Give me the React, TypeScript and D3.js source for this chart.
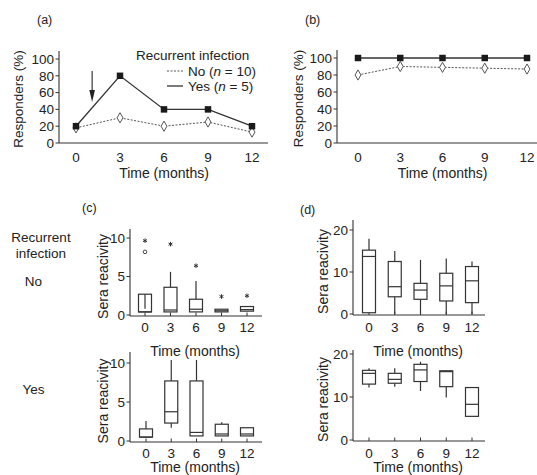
import React from "react";
import * as d3 from "d3";

const months = [0, 3, 6, 9, 12];
const aYes = [20, 80, 40, 40, 20];
const aNo = [18, 30, 20, 25, 13];
const bYes = [100, 100, 100, 100, 100];
const bNo = [80, 90, 89, 88, 87];
const pctTicks = [0, 20, 40, 60, 80, 100];
const cTicks = [0, 5, 10];
const dTicks = [0, 10, 20];

type Box = { q1: number; med: number; q3: number; lo: number; hi: number; inner?: [number, number] };

const cNoBoxes: Box[] = [
  { q1: 0.4, med: 0.4, q3: 2.7, lo: 0.4, hi: 2.7, inner: [0.8, 2.7] },
  { q1: 0.4, med: 0.65, q3: 3.6, lo: 0.4, hi: 5.6 },
  { q1: 0.4, med: 0.75, q3: 2.05, lo: 0.4, hi: 4.4 },
  { q1: 0.4, med: 0.55, q3: 0.75, lo: 0.4, hi: 0.75 },
  { q1: 0.5, med: 0.7, q3: 1.1, lo: 0.5, hi: 1.1 },
];
const cNoStars = [
  { t: 0, v: 9.65 },
  { t: 3, v: 9.2 },
  { t: 6, v: 6.4 },
  { t: 9, v: 2.4 },
  { t: 12, v: 2.5 },
];
const cNoCircles = [{ t: 0, v: 8.2 }];
const cYesBoxes: Box[] = [
  { q1: 0.5, med: 0.5, q3: 1.55, lo: 0.5, hi: 2.55 },
  { q1: 2.3, med: 3.75, q3: 7.7, lo: 1.7, hi: 10.4 },
  { q1: 0.65, med: 1.1, q3: 7.7, lo: 0.65, hi: 10.4 },
  { q1: 0.65, med: 0.9, q3: 2.15, lo: 0.65, hi: 2.4 },
  { q1: 0.65, med: 0.9, q3: 1.7, lo: 0.65, hi: 1.7 },
];
const dNoBoxes: Box[] = [
  { q1: 0.3, med: 13.7, q3: 15.2, lo: 0.3, hi: 17.9 },
  { q1: 4.1, med: 6.5, q3: 12.5, lo: 0, hi: 15 },
  { q1: 3.5, med: 5.7, q3: 7.3, lo: 0, hi: 12.9 },
  { q1: 3.1, med: 6.7, q3: 9.7, lo: 0, hi: 13.2 },
  { q1: 2.7, med: 7.9, q3: 11.3, lo: 0, hi: 12.5 },
];
const dYesBoxes: Box[] = [
  { q1: 13.0, med: 15.5, q3: 16.2, lo: 12.2, hi: 16.7 },
  { q1: 13.2, med: 14.1, q3: 15.5, lo: 12.4, hi: 16.7 },
  { q1: 13.6, med: 16.3, q3: 17.6, lo: 11.4, hi: 18.2 },
  { q1: 12.4, med: 15.9, q3: 16.1, lo: 9.9, hi: 16.1 },
  { q1: 5.5, med: 8.3, q3: 12.2, lo: 5.5, hi: 12.2 },
];

const FONT = "'Liberation Sans', Arial, Helvetica, sans-serif";
const TXT = "#222";
const AX = "#333";
const FS = 13.5;
const FT = 14;

function LinePanel(props: {
  xr: [number, number];
  yr: [number, number];
  axisX: number;
  axisTop: number;
  axisRight: number;
  yes: number[];
  no: number[];
  yLabelX: number;
}) {
  const { xr, yr, axisX, axisTop, axisRight, yes, no } = props;
  const x = d3.scaleLinear().domain([0, 12]).range(xr);
  const y = d3.scaleLinear().domain([0, 100]).range(yr);
  const base = y(0);
  const line = d3
    .line<number>()
    .x((_, i) => x(months[i]))
    .y((d) => y(d));
  const sq = d3.symbol(d3.symbolSquare, 42)() as string;
  const dia = d3.symbol(d3.symbolDiamond, 30)() as string;
  const midX = (xr[0] + xr[1]) / 2;
  return (
    <g>
      <line x1={axisX} x2={axisX} y1={axisTop} y2={base} stroke={AX} strokeWidth={1.1} />
      <line x1={axisX} x2={axisRight} y1={base} y2={base} stroke={AX} strokeWidth={1.1} />
      {pctTicks.map((t) => (
        <g key={t}>
          <line x1={axisX - 3.5} x2={axisX} y1={y(t)} y2={y(t)} stroke={AX} strokeWidth={1} />
          <text x={axisX - 5} y={y(t)} dy="0.36em" textAnchor="end" fontSize={FS} fill={TXT}>
            {t}
          </text>
        </g>
      ))}
      {months.map((m) => (
        <text key={m} x={x(m)} y={base + 18.5} textAnchor="middle" fontSize={FS} fill={TXT}>
          {m}
        </text>
      ))}
      <text x={midX} y={base + 35} textAnchor="middle" fontSize={FT} fill={TXT}>
        Time (months)
      </text>
      <text
        transform={`translate(${props.yLabelX},${(axisTop + base) / 2 + 2}) rotate(-90)`}
        dy="0.35em"
        textAnchor="middle"
        fontSize={FS}
        fill={TXT}
      >
        Responders (%)
      </text>
      <path d={line(no) as string} fill="none" stroke="#555" strokeWidth={1} strokeDasharray="2,1.5" />
      <path d={line(yes) as string} fill="none" stroke="#333" strokeWidth={1.3} />
      {no.map((d, i) => (
        <path key={"n" + i} d={dia} transform={`translate(${x(months[i])},${y(d)})`} fill="#fff" stroke="#555" strokeWidth={1} />
      ))}
      {yes.map((d, i) => (
        <path key={"y" + i} d={sq} transform={`translate(${x(months[i])},${y(d)})`} fill="#1a1a1a" />
      ))}
    </g>
  );
}

function BoxPanel(props: {
  xr: [number, number];
  yr: [number, number];
  ymax: number;
  ticks: number[];
  axisX: number;
  axisTop: number;
  axisRight: number;
  boxes: Box[];
  stars?: { t: number; v: number }[];
  circles?: { t: number; v: number }[];
  tickLabelY: number;
  yLabelX: number;
}) {
  const { xr, yr, ymax, ticks, axisX, axisTop, axisRight, boxes } = props;
  const x = d3.scaleLinear().domain([0, 12]).range(xr);
  const y = d3.scaleLinear().domain([0, ymax]).range(yr);
  const base = y(0) + 1;
  const bw = 13;
  const star = d3.symbol(d3.symbolAsterisk, 14)() as string;
  return (
    <g>
      <line x1={axisX} x2={axisX} y1={axisTop} y2={base} stroke={AX} strokeWidth={1.1} />
      <line x1={axisX} x2={axisRight} y1={base} y2={base} stroke={AX} strokeWidth={1.1} />
      {ticks.map((t) => (
        <g key={t}>
          <line x1={axisX - 3.5} x2={axisX} y1={y(t)} y2={y(t)} stroke={AX} strokeWidth={1} />
          <text x={axisX - 5} y={y(t)} dy="0.36em" textAnchor="end" fontSize={FS} fill={TXT}>
            {t}
          </text>
        </g>
      ))}
      {months.map((m) => (
        <g key={m}>
          <line x1={x(m)} x2={x(m)} y1={base} y2={base - 3.5} stroke={AX} strokeWidth={1} />
          <text x={x(m)} y={props.tickLabelY} textAnchor="middle" fontSize={FS} fill={TXT}>
            {m}
          </text>
        </g>
      ))}
      <text
        transform={`translate(${props.yLabelX},${(axisTop + base) / 2 + 4}) rotate(-90)`}
        dy="0.35em"
        textAnchor="middle"
        fontSize={FT}
        fill={TXT}
      >
        Sera reacivity
      </text>
      {boxes.map((b, i) => {
        const cx = x(months[i]);
        return (
          <g key={i} stroke="#333" strokeWidth={1.2} fill="none">
            {b.hi > b.q3 && <line x1={cx} x2={cx} y1={y(b.q3)} y2={y(b.hi)} />}
            {b.lo < b.q1 && <line x1={cx} x2={cx} y1={y(b.q1)} y2={y(b.lo)} />}
            <rect x={cx - bw / 2} y={y(b.q3)} width={bw} height={y(b.q1) - y(b.q3)} fill="#fff" />
            {b.inner && <line x1={cx} x2={cx} y1={y(b.inner[0])} y2={y(b.inner[1])} />}
            <line x1={cx - bw / 2} x2={cx + bw / 2} y1={y(b.med)} y2={y(b.med)} />
          </g>
        );
      })}
      {(props.stars || []).map((s, i) => (
        <path key={"s" + i} d={star} transform={`translate(${x(s.t)},${y(s.v)})`} stroke="#333" strokeWidth={1} fill="none" />
      ))}
      {(props.circles || []).map((s, i) => (
        <circle key={"c" + i} cx={x(s.t)} cy={y(s.v)} r={1.8} stroke="#333" strokeWidth={0.9} fill="#fff" />
      ))}
    </g>
  );
}

export default function App() {
  const ax = d3.scaleLinear().domain([0, 12]).range([76, 252]);
  return (
    <svg
      width={537}
      height={475}
      style={{ position: "absolute", left: 0, top: 0, background: "#fff" }}
      fontFamily={FONT}
    >
      <rect width={537} height={475} fill="#fff" />
      {/* (a) */}
      <text x={37} y={24} fontSize={12.5} fill={TXT}>(a)</text>
      <LinePanel xr={[76, 252]} yr={[143, 59]} axisX={59} axisTop={51} axisRight={268} yes={aYes} no={aNo} yLabelX={18} />
      {/* arrow */}
      <line x1={ax(1.1)} x2={ax(1.1)} y1={71} y2={92} stroke="#222" strokeWidth={1.1} />
      <path d={`M${ax(1.1) - 2.8},${90} L${ax(1.1) + 2.8},${90} L${ax(1.1)},${102} Z`} fill="#222" />
      {/* legend */}
      <text x={136} y={60} fontSize={FS} fill={TXT}>Recurrent infection</text>
      <line x1={167} x2={183} y1={71} y2={71} stroke="#555" strokeWidth={1} strokeDasharray="2,1.5" />
      <text x={188} y={75.5} fontSize={FS} fill={TXT}>
        No (<tspan fontStyle="italic">n</tspan> = 10)
      </text>
      <line x1={167} x2={183} y1={86} y2={86} stroke="#333" strokeWidth={1.3} />
      <text x={188} y={91} fontSize={FS} fill={TXT}>
        Yes (<tspan fontStyle="italic">n</tspan> = 5)
      </text>

      {/* (b) */}
      <text x={305} y={24} fontSize={12.5} fill={TXT}>(b)</text>
      <LinePanel xr={[358, 527]} yr={[143, 58]} axisX={337} axisTop={50} axisRight={537} yes={bYes} no={bNo} yLabelX={298} />

      {/* (c) */}
      <text x={82} y={212} fontSize={12.5} fill={TXT}>(c)</text>
      <text x={41} y={242} textAnchor="middle" fontSize={FS} fill={TXT}>Recurrent</text>
      <text x={41} y={258} textAnchor="middle" fontSize={FS} fill={TXT}>infection</text>
      <text x={33.5} y={286} textAnchor="middle" fontSize={FS} fill={TXT}>No</text>
      <text x={33.5} y={394} textAnchor="middle" fontSize={FS} fill={TXT}>Yes</text>
      <BoxPanel
        xr={[145, 247]}
        yr={[315, 238]}
        ymax={10}
        ticks={cTicks}
        axisX={130}
        axisTop={229}
        axisRight={262}
        boxes={cNoBoxes}
        stars={cNoStars}
        circles={cNoCircles}
        tickLabelY={332}
        yLabelX={103}
      />
      <text x={195} y={356} textAnchor="middle" fontSize={FT} fill={TXT}>Time (months)</text>
      <BoxPanel
        xr={[146, 247]}
        yr={[441, 363]}
        ymax={10}
        ticks={cTicks}
        axisX={130}
        axisTop={352}
        axisRight={262}
        boxes={cYesBoxes}
        tickLabelY={457.5}
        yLabelX={103}
      />
      <text x={195} y={472} textAnchor="middle" fontSize={FT} fill={TXT}>Time (months)</text>

      {/* (d) */}
      <text x={300} y={214} fontSize={12.5} fill={TXT}>(d)</text>
      <BoxPanel
        xr={[369, 472]}
        yr={[314, 230]}
        ymax={20}
        ticks={dTicks}
        axisX={353}
        axisTop={220}
        axisRight={485}
        boxes={dNoBoxes}
        tickLabelY={331.5}
        yLabelX={323}
      />
      <text x={418} y={356} textAnchor="middle" fontSize={FT} fill={TXT}>Time (months)</text>
      <BoxPanel
        xr={[369, 472]}
        yr={[440, 354]}
        ymax={20}
        ticks={dTicks}
        axisX={353}
        axisTop={350}
        axisRight={485}
        boxes={dYesBoxes}
        tickLabelY={457.5}
        yLabelX={323}
      />
      <text x={418} y={472} textAnchor="middle" fontSize={FT} fill={TXT}>Time (months)</text>
    </svg>
  );
}
